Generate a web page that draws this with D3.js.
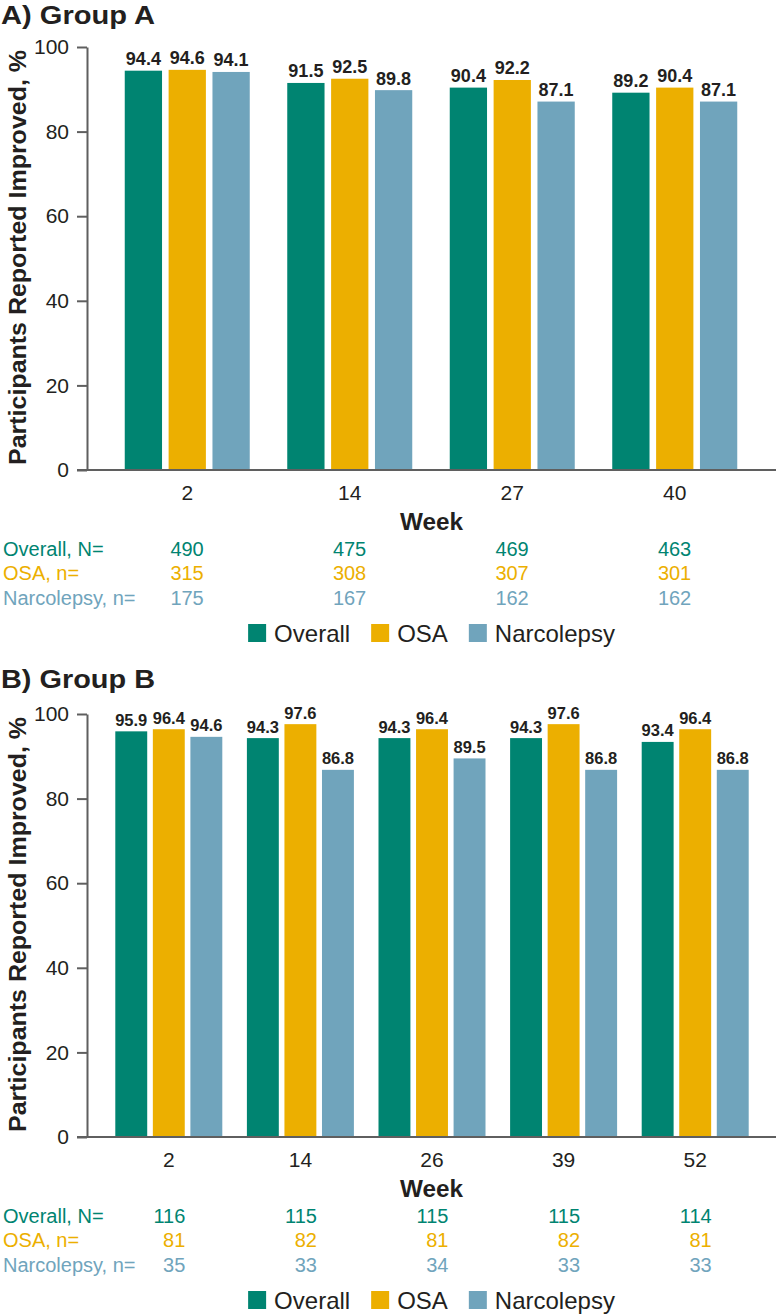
<!DOCTYPE html>
<html>
<head>
<meta charset="utf-8">
<script src="https://cdn.jsdelivr.net/npm/d3@7"></script>
<style>
  html, body { margin: 0; padding: 0; background: #fff; }
  svg { display: block; font-family: "Liberation Sans", Arial, Helvetica, sans-serif; }
</style>
</head>
<body>
<svg id="chart" width="776" height="1314"></svg>
<script>
// ---- Data ----
const seriesNames = ["Overall", "OSA", "Narcolepsy"];
const tableLabels = ["Overall, N=", "OSA, n=", "Narcolepsy, n="];
const yTicks = [0, 20, 40, 60, 80, 100];

const weeksA = ["2", "14", "27", "40"];
const overallA = [94.4, 91.5, 90.4, 89.2];
const osaA = [94.6, 92.5, 92.2, 90.4];
const narcolepsyA = [94.1, 89.8, 87.1, 87.1];
const nOverallA = [490, 475, 469, 463];
const nOsaA = [315, 308, 307, 301];
const nNarcolepsyA = [175, 167, 162, 162];

const weeksB = ["2", "14", "26", "39", "52"];
const overallB = [95.9, 94.3, 94.3, 94.3, 93.4];
const osaB = [96.4, 97.6, 96.4, 97.6, 96.4];
const narcolepsyB = [94.6, 86.8, 89.5, 86.8, 86.8];
const nOverallB = [116, 115, 115, 115, 114];
const nOsaB = [81, 82, 81, 82, 81];
const nNarcolepsyB = [35, 33, 34, 33, 33];

// ---- Styles ----
const colors = { "Overall": "#008471", "OSA": "#ECAF00", "Narcolepsy": "#70A4BC" };
const textDark = "#231f20";
const axisColor = "#5f5f5f";

const svg = d3.select("#chart");

function drawPanel(cfg) {
  const g = svg.append("g");
  const y = d3.scaleLinear().domain([0, 100]).range([cfg.yBottom, cfg.yTop]);
  const x0 = d3.scaleBand().domain(cfg.weeks).range(cfg.xRange).paddingInner(0).paddingOuter(0);
  const x1 = d3.scaleBand().domain(seriesNames).range([0, cfg.groupWidth]).paddingInner(0.15).paddingOuter(0);
  const off = (x0.bandwidth() - cfg.groupWidth) / 2;
  const axisLeft = 87, axisRight = 776;

  // Title
  g.append("text").attr("x", 1).attr("y", cfg.titleY)
    .attr("font-size", 25.5).attr("font-weight", "bold").attr("fill", textDark)
    .attr("textLength", 154).attr("lengthAdjust", "spacingAndGlyphs")
    .text(cfg.title);

  // Y axis
  const yAxis = g.append("g").attr("transform", `translate(${axisLeft},0)`)
    .call(d3.axisLeft(y).tickValues(yTicks).tickSize(10).tickSizeOuter(0).tickPadding(8));
  yAxis.select(".domain").attr("stroke", axisColor).attr("stroke-width", 2);
  yAxis.selectAll(".tick line").attr("stroke", axisColor).attr("stroke-width", 2);
  yAxis.selectAll(".tick text").attr("font-size", 21).attr("fill", textDark)
    .attr("font-family", "Liberation Sans, Arial, sans-serif");

  // Y title
  g.append("text")
    .attr("transform", `translate(25.5,${(cfg.yTop + cfg.yBottom) / 2 - 1}) rotate(-90)`)
    .attr("text-anchor", "middle").attr("font-size", 24).attr("font-weight", "bold")
    .attr("textLength", 415).attr("lengthAdjust", "spacingAndGlyphs")
    .attr("fill", textDark).text("Participants Reported Improved, %");

  // Bars
  const seriesVals = { "Overall": cfg.overall, "OSA": cfg.osa, "Narcolepsy": cfg.narcolepsy };
  cfg.weeks.forEach((w, i) => {
    seriesNames.forEach(s => {
      const v = seriesVals[s][i];
      const bx = x0(w) + off + x1(s);
      g.append("rect").attr("x", bx).attr("y", y(v))
        .attr("width", x1.bandwidth()).attr("height", y(0) - y(v))
        .attr("fill", colors[s]);
      g.append("text").attr("x", bx + x1.bandwidth() / 2).attr("y", y(v) - 5.5)
        .attr("text-anchor", "middle").attr("font-size", cfg.labelSize).attr("font-weight", "bold")
        .attr("fill", textDark).text(v.toFixed(1));
    });
  });

  // X axis
  const xAxis = g.append("g").attr("transform", `translate(0,${y(0)})`)
    .call(d3.axisBottom(x0).tickSize(0).tickSizeOuter(0).tickPadding(15));
  xAxis.select(".domain").remove();
  xAxis.selectAll(".tick text").attr("font-size", 21).attr("fill", textDark)
    .attr("font-family", "Liberation Sans, Arial, sans-serif");
  g.append("line").attr("x1", axisLeft - 10).attr("x2", axisRight)
    .attr("y1", y(0)).attr("y2", y(0)).attr("stroke", axisColor).attr("stroke-width", 2);

  // Week label
  g.append("text").attr("x", (axisLeft + axisRight) / 2).attr("y", y(0) + 60)
    .attr("text-anchor", "middle").attr("font-size", 23.5).attr("font-weight", "bold")
    .attr("textLength", 63).attr("lengthAdjust", "spacingAndGlyphs")
    .attr("fill", textDark).text("Week");

  // N table
  const nVals = [cfg.nOverall, cfg.nOsa, cfg.nNarcolepsy];
  tableLabels.forEach((lab, r) => {
    const ty = y(0) + 86 + r * 24.3;
    const col = colors[seriesNames[r]];
    g.append("text").attr("x", 3).attr("y", ty).attr("font-size", 20).attr("fill", col).text(lab);
    cfg.weeks.forEach((w, i) => {
      g.append("text").attr("x", x0(w) + x0.bandwidth() / 2 + 16.5).attr("y", ty)
        .attr("text-anchor", "end").attr("font-size", 20).attr("fill", col).text(nVals[r][i]);
    });
  });

  // Legend
  const lg = g.append("g");
  const ly = y(0) + 154;
  let cx = 0;
  seriesNames.forEach(s => {
    const it = lg.append("g");
    it.append("rect").attr("x", 0).attr("y", 0).attr("width", 18).attr("height", 18).attr("fill", colors[s]);
    const t = it.append("text").attr("x", 26).attr("y", 17.5).attr("font-size", 24).attr("fill", textDark).text(s);
    const w = 26 + t.node().getComputedTextLength();
    it.attr("transform", `translate(${cx},${ly})`);
    cx += w + 21;
  });
  const total = cx - 21;
  lg.attr("transform", `translate(${(axisLeft + axisRight) / 2 - total / 2},0)`);
}

drawPanel({
  title: "A) Group A", titleY: 23.5, yTop: 47, yBottom: 470,
  weeks: weeksA, xRange: [106, 756], groupWidth: 125, labelSize: 18,
  overall: overallA, osa: osaA, narcolepsy: narcolepsyA,
  nOverall: nOverallA, nOsa: nOsaA, nNarcolepsy: nNarcolepsyA
});

drawPanel({
  title: "B) Group B", titleY: 688, yTop: 714, yBottom: 1137,
  weeks: weeksB, xRange: [103, 761], groupWidth: 107, labelSize: 16.5,
  overall: overallB, osa: osaB, narcolepsy: narcolepsyB,
  nOverall: nOverallB, nOsa: nOsaB, nNarcolepsy: nNarcolepsyB
});
</script>
</body>
</html>
